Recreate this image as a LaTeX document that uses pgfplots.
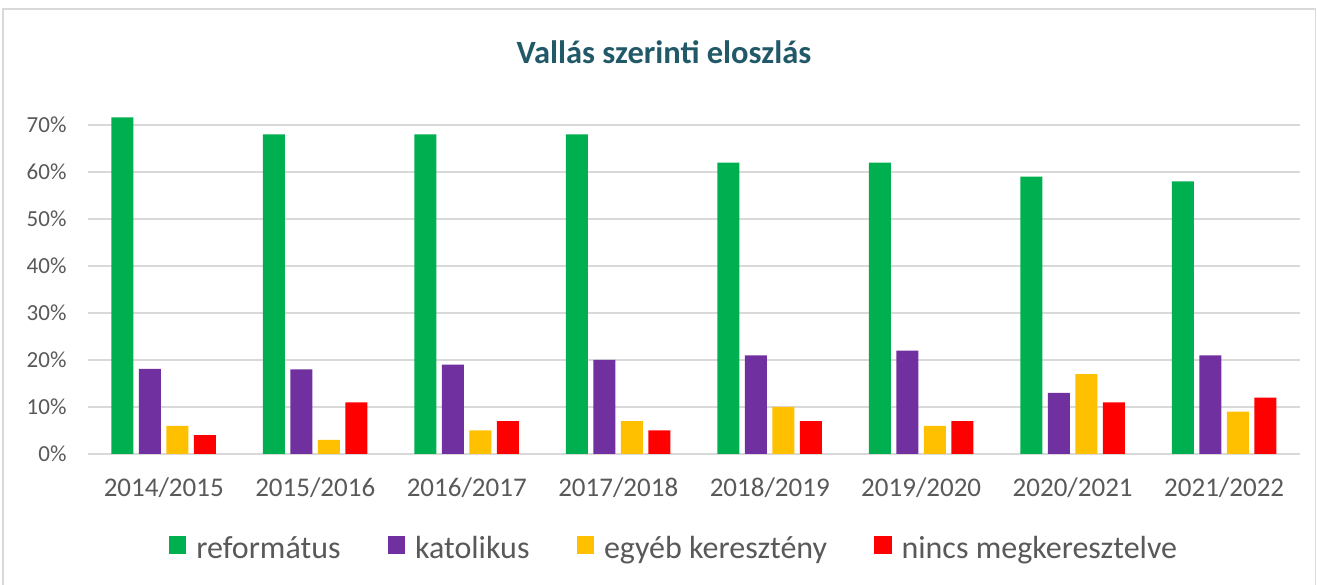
\documentclass[border=0pt]{standalone}
\usepackage{fontspec}
\setmainfont{Carlito}
\usepackage{pgfplots}
\pgfplotsset{compat=1.18}

\definecolor{cRef}{HTML}{00B050}
\definecolor{cKat}{HTML}{7030A0}
\definecolor{cEgy}{HTML}{FFC000}
\definecolor{cNin}{HTML}{FF0000}
\definecolor{gridc}{HTML}{D9D9D9}
\definecolor{txt}{HTML}{595959}
\definecolor{titlec}{HTML}{215968}

\begin{document}
\begin{tikzpicture}
\useasboundingbox (0pt,0pt) rectangle (1317pt,585pt);
\clip (0pt,0pt) rectangle (1317pt,585pt);
\draw[gridc, line width=1.2pt] (3pt,-10pt) rectangle (1315.5pt,576pt);
\node[font=\fontsize{32.5}{38}\selectfont\bfseries, text=titlec] at (664pt,533pt) {Vallás szerinti eloszlás};
\begin{axis}[
    at={(88pt,131pt)}, anchor=south west,
    scale only axis,
    width=1212pt, height=329pt,
    ybar=5.5pt, bar width=22pt,
    xmin=-0.5, xmax=7.5,
    ymin=0, ymax=70,
    clip=false,
    axis line style={draw=none},
    major tick length=0pt,
    ymajorgrids=true,
    grid style={draw=gridc, line width=1.3pt},
    xtick={0,...,7},
    xticklabels={2014/2015,2015/2016,2016/2017,2017/2018,2018/2019,2019/2020,2020/2021,2021/2022},
    ytick={0,10,...,70},
    yticklabels={0\%,10\%,20\%,30\%,40\%,50\%,60\%,70\%},
    x tick label style={font=\fontsize{27}{31}\selectfont, text=txt, yshift=-20pt},
    y tick label style={font=\fontsize{23}{28}\selectfont, text=txt, xshift=-18pt},
    legend style={at={(0.4835,-0.2857)}, anchor=center, draw=none,
        legend columns=4, font=\fontsize{32}{36}\selectfont, text=txt,
        /tikz/every even column/.append style={column sep=45pt},
        /tikz/every odd column/.append style={column sep=8pt}},
    legend image code/.code={\fill[#1] (0pt,-6pt) rectangle (17.5pt,11.5pt);},
]
\addplot[fill=cRef, draw=none] coordinates {(0,71.6) (1,68) (2,68) (3,68) (4,62) (5,62) (6,59) (7,58)};
\addplot[fill=cKat, draw=none] coordinates {(0,18.1) (1,18) (2,19) (3,20) (4,21) (5,22) (6,13) (7,21)};
\addplot[fill=cEgy, draw=none] coordinates {(0,6) (1,3) (2,5) (3,7) (4,10) (5,6) (6,17) (7,9)};
\addplot[fill=cNin, draw=none] coordinates {(0,4) (1,11) (2,7) (3,5) (4,7) (5,7) (6,11) (7,12)};
\legend{református,katolikus,egyéb keresztény,nincs megkeresztelve}
\end{axis}
\end{tikzpicture}
\end{document}
